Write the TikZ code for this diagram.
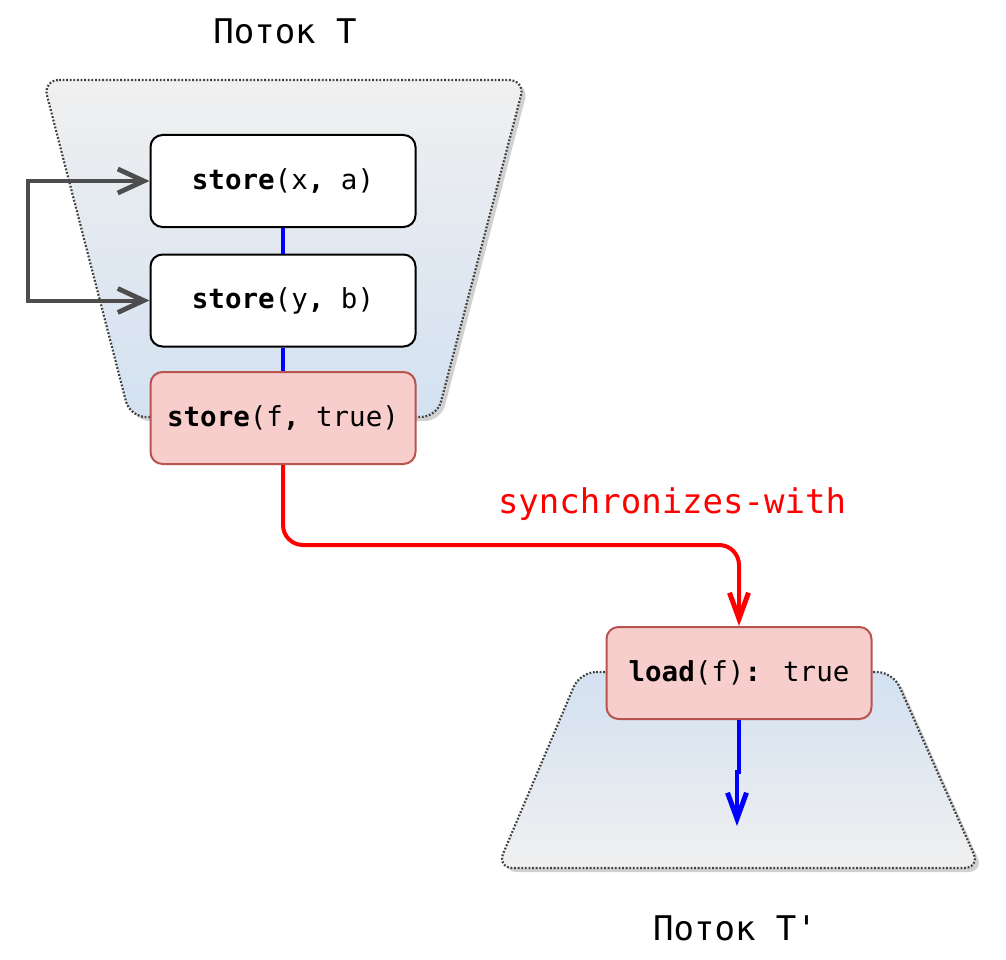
\documentclass[tikz,border=0pt]{standalone}
\usepackage{fontspec}
\setmainfont[Ligatures=NoCommon]{DejaVu Sans Mono}
\usetikzlibrary{arrows.meta}
\definecolor{laneGray}{HTML}{F0F0F0}
\definecolor{laneBlue}{HTML}{D3E1F1}
\definecolor{redFill}{HTML}{F8CECC}
\definecolor{redLine}{HTML}{B85450}
\definecolor{loopGray}{HTML}{4D4D4D}
\definecolor{dotGray}{HTML}{404040}
\begin{document}
\begin{tikzpicture}[x=1pt,y=-1pt,
  lane/.style={draw=dotGray,line width=2.2pt,dash pattern=on 1.8pt off 1.8pt,rounded corners=16pt},
  laneshadow/.style={fill=black!18,draw=none,rounded corners=16pt},
  opbox/.style={draw=black,line width=2pt,fill=white,rounded corners=12pt,
    minimum width=265pt,minimum height=92pt,inner sep=0pt,
    font=\fontsize{27.5}{32}\selectfont},
  syncbox/.style={opbox,draw=redLine,fill=redFill},
  title/.style={font=\fontsize{34}{40}\selectfont,inner sep=0pt},
  seq/.style={draw=blue,line width=4pt},
  barb/.style={-{Straight Barb[length=26pt,width=19pt,line width=0pt 1.25]}}
]
\useasboundingbox (0,0) rectangle (1006,960);
% top lane
\fill[laneshadow] (47,84) -- (529,84) -- (441,421) -- (134,421) -- cycle;
\shade[top color=laneGray,bottom color=laneBlue,rounded corners=16pt]
  (43,80) -- (525,80) -- (437,417) -- (130,417) -- cycle;
\draw[lane] (43,80) -- (525,80) -- (437,417) -- (130,417) -- cycle;
% bottom lane
\fill[laneshadow] (584,676) -- (897,676) -- (984,872) -- (501,872) -- cycle;
\shade[top color=laneBlue,bottom color=laneGray,rounded corners=16pt]
  (580,672) -- (893,672) -- (980,868) -- (497,868) -- cycle;
\draw[lane] (580,672) -- (893,672) -- (980,868) -- (497,868) -- cycle;

\node[title] (tT) at (285,31) {Поток T};
\node[title] (tT2) at (735,928) {Поток T\textquotesingle};

\node[opbox] (sx) at (283,181) {\textbf{store}(x\textbf{,} a)};
\node[opbox] (sy) at (283,300.5) {\textbf{store}(y\textbf{,} b)};
\node[syncbox] (sf) at (283,418) {\textbf{store}(f\textbf{,} true)};
\node[syncbox] (lf) at (739,673) {\textbf{load}(f)\textbf{:} true};
\coordinate (end) at (737,826);

\draw[seq] (sx.south) -- (sy.north);
\draw[seq] (sy.south) -- (sf.north);
\draw[seq,barb] (lf.south) -- ++(0,52) -- ++(-2,0) -- (end);

\draw[loopGray,line width=4pt,
  {Straight Barb[length=26pt,width=24pt,line width=0pt 1.2]}-{Straight Barb[length=26pt,width=24pt,line width=0pt 1.2]}]
  (sx.west) -- ++(-122,0) |- (sy.west);

\draw[red,line width=4pt,rounded corners=20pt,barb]
  (sf.south) |- (545,545) -| (lf.north);
\node[red,font=\fontsize{34}{40}\selectfont,inner sep=0pt] (lbl) at (672,504) {synchronizes-with};
\end{tikzpicture}
\end{document}
